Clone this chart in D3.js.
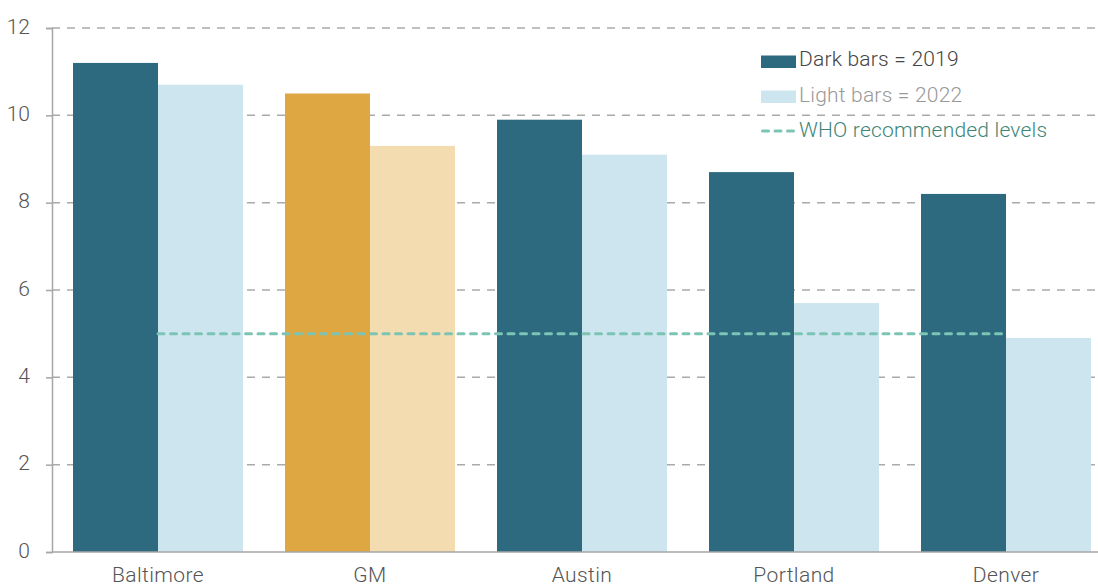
<!DOCTYPE html>
<html>
<head>
<meta charset="utf-8">
<script src="https://cdn.jsdelivr.net/npm/d3@7"></script>
<style>
  html, body { margin: 0; padding: 0; background: #fff; }
  svg { display: block; font-family: Roboto, "Noto Sans", sans-serif; }
</style>
</head>
<body>
<svg id="chart" width="1098" height="586"></svg>
<script>
// Cities and annual values (2019 vs 2022)
const cities = ["Baltimore", "GM", "Austin", "Portland", "Denver"];
const values2019 = [11.2, 10.5, 9.9, 8.7, 8.2];
const values2022 = [10.7, 9.3, 9.1, 5.7, 4.9];
const yTicks = [0, 2, 4, 6, 8, 10, 12];
const whoLevel = 5;
const highlightCity = "GM";
const legendLabels = ["Dark bars = 2019", "Light bars = 2022", "WHO recommended levels"];

const colors = {
  dark: "#2d6a80", light: "#cde5ee",
  darkHi: "#dea742", lightHi: "#f2dcb0",
  who: "#7cc4b4", whoText: "#3e8577",
  grid: "#aaaaaa", axis: "#a6a6a6", tickText: "#555555"
};
const fontSize = 21;

const svg = d3.select("#chart");
const plotLeft = 52, plotTop = 28, plotBottom = 552, plotRight = 1098;

const x = d3.scaleBand().domain(cities).range([plotLeft, plotLeft + 212 * cities.length])
  .paddingInner(42 / 212).paddingOuter(21 / 212);
const xSub = d3.scaleBand().domain(["2019", "2022"]).range([0, x.bandwidth()]).padding(0);
const y = d3.scaleLinear().domain([0, 12]).range([plotBottom, plotTop]);

// dashed gridlines
svg.append("g").selectAll("line").data(yTicks.filter(d => d > 0)).join("line")
  .attr("x1", plotLeft).attr("x2", plotRight)
  .attr("y1", d => y(d)).attr("y2", d => y(d))
  .attr("stroke", colors.grid).attr("stroke-width", 1.5)
  .attr("stroke-dasharray", "8,7");

// bars
const rows = cities.map((c, i) => ({ city: c, v2019: values2019[i], v2022: values2022[i] }));
const groups = svg.append("g").selectAll("g").data(rows).join("g")
  .attr("transform", d => `translate(${x(d.city)},0)`);
groups.append("rect")
  .attr("x", xSub("2019")).attr("width", xSub.bandwidth())
  .attr("y", d => y(d.v2019)).attr("height", d => y(0) - y(d.v2019))
  .attr("fill", d => d.city === highlightCity ? colors.darkHi : colors.dark);
groups.append("rect")
  .attr("x", xSub("2022")).attr("width", xSub.bandwidth())
  .attr("y", d => y(d.v2022)).attr("height", d => y(0) - y(d.v2022))
  .attr("fill", d => d.city === highlightCity ? colors.lightHi : colors.light);

// WHO reference line spanning first to last city centre
svg.append("line")
  .attr("x1", x(cities[0]) + x.bandwidth() / 2)
  .attr("x2", x(cities[cities.length - 1]) + x.bandwidth() / 2)
  .attr("y1", y(whoLevel)).attr("y2", y(whoLevel))
  .attr("stroke", colors.who).attr("stroke-width", 3)
  .attr("stroke-dasharray", "6,6.5").attr("stroke-linecap", "round");

// y axis
const yAxis = svg.append("g").attr("transform", `translate(${plotLeft},0)`)
  .call(d3.axisLeft(y).tickValues(yTicks).tickSize(6).tickPadding(16));
yAxis.select(".domain").attr("stroke", colors.axis).attr("stroke-width", 1.5);
yAxis.selectAll(".tick line").attr("stroke", colors.axis).attr("stroke-width", 1.5);
yAxis.selectAll(".tick text").attr("fill", colors.tickText).attr("dy", "0.24em")
  .attr("font-size", fontSize).attr("font-family", "Roboto, sans-serif").attr("font-weight", 300);

// x axis
const xAxis = svg.append("g").attr("transform", `translate(0,${plotBottom})`)
  .call(d3.axisBottom(x).tickSize(0).tickPadding(15));
xAxis.select(".domain").attr("d", `M${plotLeft},0H${plotRight}`)
  .attr("stroke", colors.axis).attr("stroke-width", 1.5);
xAxis.selectAll(".tick text").attr("fill", colors.tickText)
  .attr("font-size", fontSize).attr("font-family", "Roboto, sans-serif").attr("font-weight", 300)
  .attr("letter-spacing", 0.4);

// legend
const legend = svg.append("g").attr("transform", "translate(761,0)");
legend.append("rect").attr("x", 0).attr("y", 55.5).attr("width", 35).attr("height", 12.5).attr("fill", colors.dark);
legend.append("rect").attr("x", 0).attr("y", 90.5).attr("width", 35).attr("height", 12.5).attr("fill", colors.light);
legend.append("line").attr("x1", 1.5).attr("x2", 35).attr("y1", 131).attr("y2", 131)
  .attr("stroke", colors.who).attr("stroke-width", 3)
  .attr("stroke-dasharray", "6,6.5").attr("stroke-linecap", "round");
const legendColors = ["#444444", "#999999", colors.whoText];
const legendY = [66, 101.5, 137];
legend.selectAll("text.lg").data(legendLabels).join("text").attr("class", "lg")
  .attr("x", 38).attr("y", (d, i) => legendY[i])
  .attr("fill", (d, i) => legendColors[i])
  .attr("font-size", fontSize).attr("font-weight", 300).attr("letter-spacing", 0.2)
  .text(d => d);
</script>
</body>
</html>
